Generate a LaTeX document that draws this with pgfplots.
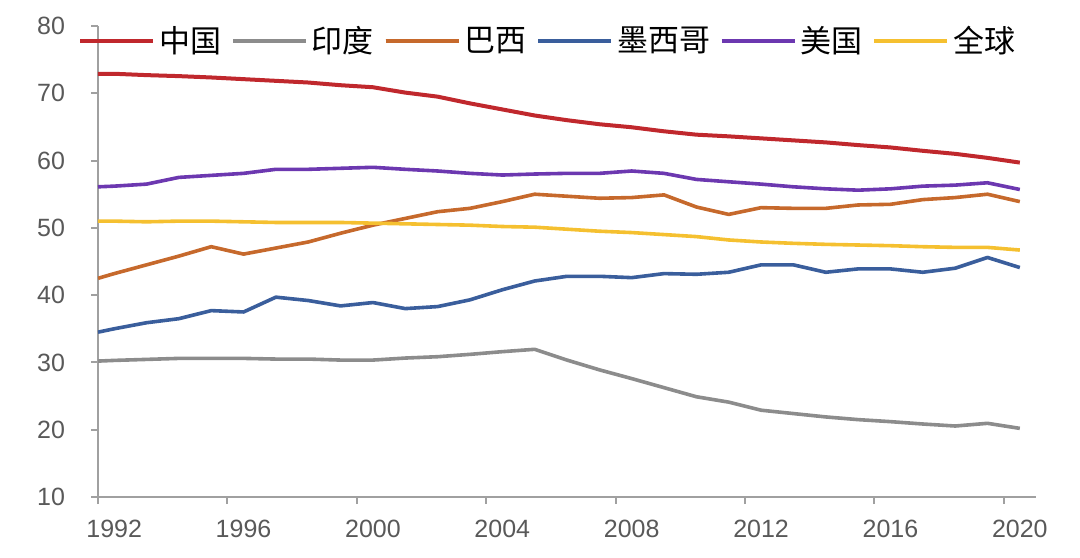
\documentclass[border=0pt]{standalone}
\usepackage{pgfplots}
\pgfplotsset{compat=1.18}
\usepackage{pgfplotstable}
\usepackage{fontspec}
\setmainfont{Liberation Sans}
\newfontfamily\cjk{Noto Sans CJK SC}
\definecolor{cChina}{HTML}{C0282D}
\definecolor{cIndia}{HTML}{8C8C8C}
\definecolor{cBrazil}{HTML}{C6692C}
\definecolor{cMexico}{HTML}{3A5E9C}
\definecolor{cUSA}{HTML}{6C38B0}
\definecolor{cWorld}{HTML}{F5C030}
\definecolor{axisgray}{HTML}{A0A0A0}
\definecolor{labelgray}{HTML}{595959}

\pgfplotstableread{
year china india brazil mexico usa world
1991.5 72.9 30.2 42.5 34.5 56.1 51.0
1992 72.9 30.3 43.2 35.0 56.2 51.0
1993 72.7 30.45 44.5 35.9 56.5 50.9
1994 72.55 30.6 45.8 36.5 57.5 51.0
1995 72.35 30.6 47.2 37.7 57.8 51.0
1996 72.1 30.6 46.1 37.5 58.1 50.9
1997 71.85 30.5 47.0 39.7 58.7 50.8
1998 71.6 30.5 47.9 39.2 58.7 50.8
1999 71.2 30.35 49.2 38.4 58.85 50.8
2000 70.9 30.35 50.4 38.9 59.0 50.7
2001 70.1 30.65 51.4 38.0 58.7 50.6
2002 69.5 30.85 52.4 38.3 58.45 50.5
2003 68.5 31.2 52.9 39.3 58.1 50.4
2004 67.6 31.6 53.9 40.8 57.85 50.2
2005 66.7 31.95 55.0 42.1 58.0 50.1
2006 66.0 30.35 54.7 42.8 58.1 49.8
2007 65.4 28.9 54.4 42.8 58.1 49.5
2008 64.95 27.6 54.5 42.6 58.45 49.3
2009 64.35 26.25 54.9 43.2 58.1 49.0
2010 63.85 24.9 53.1 43.1 57.2 48.7
2011 63.6 24.1 52.0 43.4 56.85 48.2
2012 63.3 22.9 53.0 44.5 56.5 47.9
2013 63.0 22.4 52.9 44.5 56.1 47.7
2014 62.7 21.9 52.9 43.4 55.8 47.55
2015 62.3 21.5 53.4 43.9 55.6 47.45
2016 61.95 21.2 53.5 43.9 55.8 47.35
2017 61.45 20.85 54.2 43.4 56.2 47.2
2018 61.0 20.55 54.5 44.0 56.35 47.1
2019 60.4 20.95 55.0 45.6 56.7 47.1
2020 59.7 20.2 53.9 44.1 55.7 46.7
}\datatable

\begin{document}
\begin{tikzpicture}
\useasboundingbox (-49pt,-30pt) rectangle (491pt,248.5pt);
\begin{axis}[
  at={(0,0)}, anchor=south west,
  scale only axis, width=469pt, height=235.5pt,
  xmin=1991.5, xmax=2020.5, ymin=10, ymax=80,
  axis x line*=bottom, axis y line*=left,
  axis line style={draw=axisgray, line width=1pt},
  tick align=outside, major tick length=3.5pt,
  tick style={draw=axisgray, line width=1pt},
  ytick={10,20,30,40,50,60,70,80},
  xtick={1991.5,1995.5,1999.5,2003.5,2007.5,2011.5,2015.5,2019.5},
  xticklabels={1992,1996,2000,2004,2008,2012,2016,2020},
  x tick label style={xshift=8.08pt, yshift=-4.5pt},
  y tick label style={xshift=-9.5pt},
  /pgf/number format/assume math mode=true,
  every tick label/.append style={font=\fontsize{12.5}{15}\selectfont, text=labelgray},
  legend columns=6,
  legend style={at={(-0.0215,0.968)}, anchor=west, draw=none, fill=none,
    font=\cjk\fontsize{15.5}{17}\selectfont, inner sep=0pt,
    /tikz/every even column/.append style={column sep=3pt}},
  legend image code/.code={\path (0pt,0pt) -- (36.5pt,0pt); \draw[#1] (0pt,0pt) -- (33.5pt,0pt);},
  legend cell align=left,
  every axis plot/.append style={line width=1.8pt, line join=round},
]
\addplot[cChina, line width=2pt] table[x=year, y=china] {\datatable};
\addlegendentry{中国}
\addplot[cIndia] table[x=year, y=india] {\datatable};
\addlegendentry{印度}
\addplot[cBrazil] table[x=year, y=brazil] {\datatable};
\addlegendentry{巴西}
\addplot[cMexico] table[x=year, y=mexico] {\datatable};
\addlegendentry{墨西哥}
\addplot[cUSA] table[x=year, y=usa] {\datatable};
\addlegendentry{美国}
\addplot[cWorld] table[x=year, y=world] {\datatable};
\addlegendentry{全球}
\end{axis}
\end{tikzpicture}
\end{document}
